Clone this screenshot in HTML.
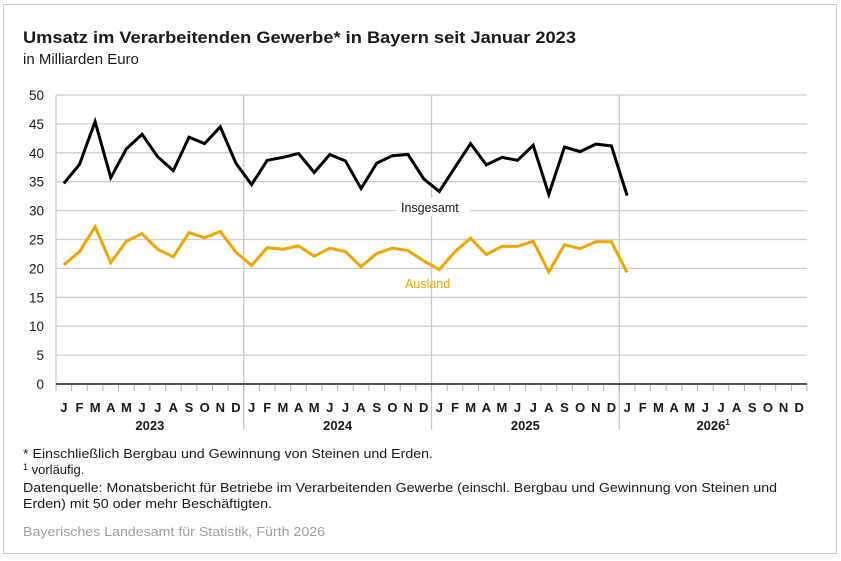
<!DOCTYPE html>
<html><head><meta charset="utf-8"><style>
html,body{margin:0;padding:0;background:#fff;}
svg{display:block;font-family:"Liberation Sans",sans-serif;}
</style></head><body>
<svg id="s" width="841" height="561" viewBox="0 0 841 561" xmlns="http://www.w3.org/2000/svg">
<rect x="3.5" y="4.5" width="833" height="549" fill="#fff" stroke="#c8c8c8" stroke-width="1"/>
<text x="23" y="43" font-size="17" font-weight="bold" fill="#1a1a1a" textLength="553" lengthAdjust="spacingAndGlyphs">Umsatz im Verarbeitenden Gewerbe* in Bayern seit Januar 2023</text>
<text x="23" y="64" font-size="15" fill="#1a1a1a">in Milliarden Euro</text>
<g id="grid"></g>
<rect x="396" y="198" width="74" height="18" fill="#fff"/>
<g id="lines"></g>
<text x="401" y="212" font-size="12.5" fill="#1a1a1a">Insgesamt</text>
<text x="405" y="288" font-size="12.5" fill="#f0a500">Ausland</text>
<g font-size="13" fill="#1a1a1a">
<text x="23" y="458" textLength="410" lengthAdjust="spacingAndGlyphs">* Einschließlich Bergbau und Gewinnung von Steinen und Erden.</text>
<text x="23" y="474"><tspan font-size="9" dy="-4">1</tspan><tspan dy="4"> vorläufig.</tspan></text>
<text x="23" y="492" textLength="754" lengthAdjust="spacingAndGlyphs">Datenquelle: Monatsbericht für Betriebe im Verarbeitenden Gewerbe (einschl. Bergbau und Gewinnung von Steinen und</text>
<text x="23" y="508" textLength="249" lengthAdjust="spacingAndGlyphs">Erden) mit 50 oder mehr Beschäftigten.</text>
</g>
<text x="23" y="536" font-size="12.5" fill="#a0a0a0" textLength="302" lengthAdjust="spacingAndGlyphs">Bayerisches Landesamt für Statistik, Fürth 2026</text>
</svg>
<script>
var NS="http://www.w3.org/2000/svg";
function el(p,t,a,txt){var e=document.createElementNS(NS,t);for(var k in a)e.setAttribute(k,a[k]);if(txt!=null)e.textContent=txt;p.appendChild(e);return e;}
var g=document.getElementById('grid'),L=document.getElementById('lines');
var x0=56,x1=807,mw=(x1-x0)/48,y0=384,sc=5.78;
function Y(v){return y0-v*sc;}
for(var v=0;v<=50;v+=5){
 if(v>0) el(g,'line',{x1:x0,x2:x1,y1:Y(v),y2:Y(v),stroke:'#cfcfcf','stroke-width':1.3});
 el(g,'text',{x:44,y:Y(v)+5,'font-size':13.5,'text-anchor':'end',fill:'#1a1a1a'},String(v));
}
el(g,'line',{x1:x0,x2:x0,y1:Y(50),y2:y0,stroke:'#cfcfcf','stroke-width':1.3});
for(var yr=1;yr<4;yr++){var x=x0+yr*12*mw;el(g,'line',{x1:x,x2:x,y1:Y(50),y2:430,stroke:'#c8c8c8','stroke-width':1.3});}
var m="JFMAMJJASOND";
for(var i=0;i<=48;i++){var x=x0+i*mw;el(g,'line',{x1:x,x2:x,y1:y0,y2:y0+7,stroke:'#b0b0b0','stroke-width':1});}
for(var i=0;i<48;i++){el(g,'text',{x:x0+(i+0.5)*mw,y:412,'font-size':13,'font-weight':'bold','text-anchor':'middle',fill:'#1a1a1a'},m[i%12]);}
var yrs=["2023","2024","2025","2026"];
for(var k=0;k<4;k++){var t=el(g,'text',{x:x0+(k*12+6)*mw,y:430,'font-size':13,'font-weight':'bold','text-anchor':'middle',fill:'#1a1a1a'},yrs[k]);if(k==3){el(t,'tspan',{'font-size':8,dy:-5},'1');}}
el(g,'line',{x1:x0,x2:x1,y1:y0,y2:y0,stroke:'#555','stroke-width':2});
var ins=[34.7,38,45.4,35.7,40.7,43.2,39.3,36.9,42.7,41.6,44.5,38.2,34.5,38.7,39.2,39.9,36.6,39.7,38.6,33.8,38.2,39.5,39.7,35.5,33.3,37.5,41.6,37.9,39.2,38.7,41.3,32.8,41,40.2,41.5,41.2,32.6];
var aus=[20.6,22.9,27.2,21,24.7,26,23.3,22,26.2,25.3,26.4,22.8,20.5,23.6,23.3,23.9,22.1,23.5,22.9,20.3,22.6,23.5,23.1,21.3,19.8,22.9,25.2,22.4,23.8,23.8,24.7,19.4,24.1,23.4,24.6,24.6,19.3];
function pts(a){return a.map(function(v,i){return (x0+(i+0.5)*mw).toFixed(1)+','+Y(v).toFixed(1);}).join(' ');}
el(L,'polyline',{points:pts(aus),fill:'none',stroke:'#f0a500','stroke-width':3,'stroke-linejoin':'miter'});
el(L,'polyline',{points:pts(ins),fill:'none',stroke:'#000','stroke-width':3,'stroke-linejoin':'miter'});
</script>
</body></html>
